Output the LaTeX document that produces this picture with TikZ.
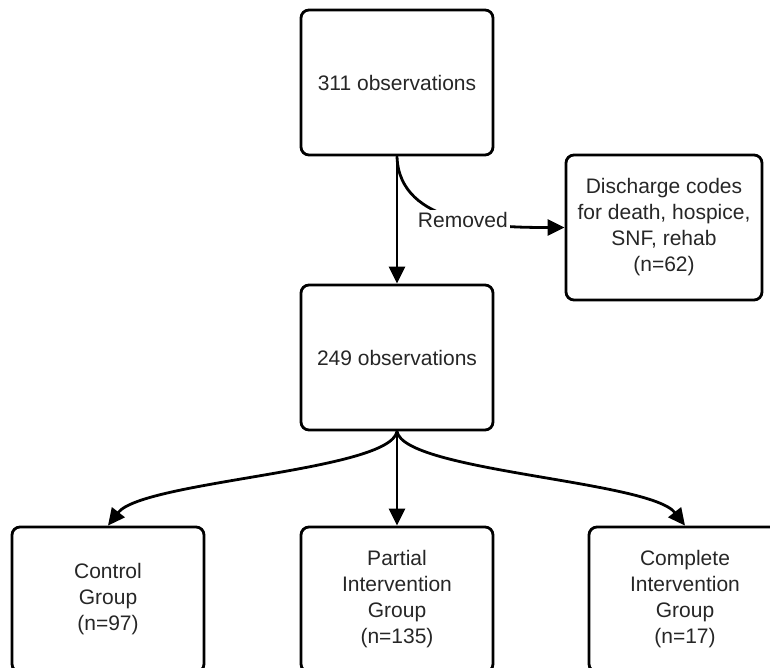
\documentclass[tikz,border=0pt]{standalone}
\usepackage{fontspec}
\setmainfont{Liberation Sans}
\usetikzlibrary{arrows.meta,positioning}
\tikzset{x=0.5pt,y=-0.5pt}
\tikzset{box/.style={draw, rounded corners=4pt, line width=1.4pt, align=center,
    minimum width=96pt, minimum height=72.5pt, inner sep=2pt, text=black!85,
    font=\fontsize{10.5}{13}\selectfont}}
\tikzset{link/.style={line width=1.4pt, -{Triangle[length=8.5pt,width=8pt]}}}
\tikzset{cut/.style={fill=white, inner sep=1pt, text=black!85, font=\fontsize{10.5}{13}\selectfont}}

\begin{document}
\begin{tikzpicture}
\useasboundingbox (0,0) rectangle (770,668);
\clip (0,0) rectangle (770,668);
% flow boxes
\node[box] (obs311) at (397,82.5) {311 observations};
\node[box] (obs249) at (397,357.5) {249 observations};
\node[box, minimum width=98pt] (removed) at (664,227.5)
    {Discharge codes\\for death, hospice,\\SNF, rehab\\(n=62)};
% groups
\node[box] (control) at (108,599.5) {Control\\Group\\(n=97)};
\node[box] (partial) at (397,599.5) {Partial\\Intervention\\Group\\(n=135)};
\node[box] (complete) at (685,599.5) {Complete\\Intervention\\Group\\(n=17)};
% connectors
\draw[link] (obs311.south) -- (obs249.north);
\draw[link] (obs311.south) .. controls +(2,70) and +(-66,0) .. node[cut, pos=0.53] {Removed} (removed.west);
\draw[link] (obs249.south) .. controls +(-7,40) and +(35,-45) .. (control.north);
\draw[link] (obs249.south) -- (partial.north);
\draw[link] (obs249.south) .. controls +(7,40) and +(-35,-45) .. (complete.north);
\end{tikzpicture}
\end{document}
